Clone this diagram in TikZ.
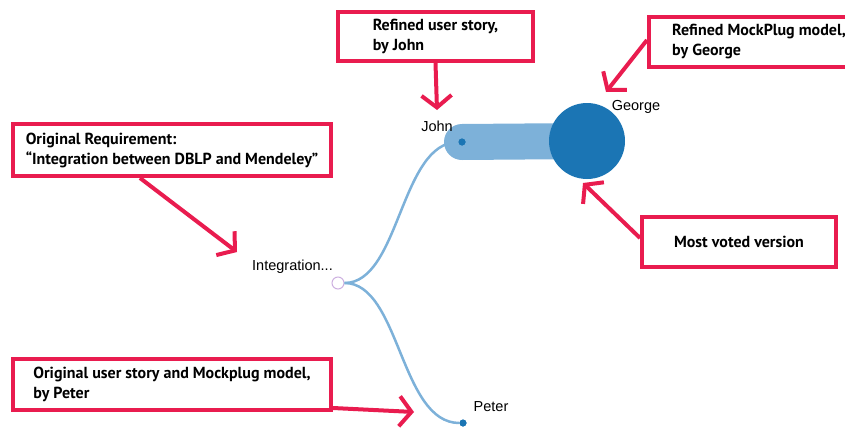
\documentclass[tikz,border=0pt]{standalone}
\usepackage{fontspec}
\setmainfont{Liberation Sans}
\newfontfamily\callfont[Ligatures=TeX]{PT Sans}
\usetikzlibrary{arrows.meta,positioning,backgrounds}
\definecolor{callRed}{HTML}{E91C4F}
\definecolor{treeLight}{HTML}{7DB1D9}
\definecolor{treeDark}{HTML}{1B75B4}
\definecolor{rootRing}{HTML}{CDB0E0}

\begin{document}
\begin{tikzpicture}[x=1pt,y=-1pt,
  call/.style={draw=callRed,line width=4pt,fill=white,align=left,inner sep=0pt,
    font=\callfont\bfseries\fontsize{16}{20}\selectfont},
  callarr/.style={-{Straight Barb[length=12pt,width=30pt]},line width=4pt,callRed},
  branch/.style={treeLight,line width=2.5pt},
  leaf/.style={circle,fill=treeDark,inner sep=0pt,minimum size=7pt},
  lbl/.style={font=\fontsize{14.5}{17}\selectfont,inner sep=0pt}
]
\useasboundingbox (0,0) rectangle (845,428);

% tree
\node[circle,draw=rootRing,fill=white,line width=1pt,minimum size=12pt,inner sep=0pt] (root) at (338,283) {};
\node[leaf] (john) at (462,142) {};
\node[leaf] (peter) at (463,423) {};
\node[circle,fill=treeDark,minimum size=76pt,inner sep=0pt] (george) at (587,141) {};
\begin{scope}[on background layer]
  \draw[treeLight,line width=36pt,line cap=round] (john.center) -- (george.center);
\end{scope}
\draw[branch] (root) .. controls (400,283) and (400,142) .. (john);
\draw[branch] (root) .. controls (400,283) and (400,423) .. (peter);
\node[leaf] at (john) {};
\node[leaf] at (peter) {};

\node[lbl,anchor=east] (rootlbl) at (333,267) {Integration...};
\node[lbl] (johnlbl) at (437,126) {John};
\node[lbl] (georgelbl) at (636,107) {George};
\node[lbl] (peterlbl) at (491,407) {Peter};

% callouts
\node[call,minimum width=318pt,minimum height=52pt] (req) at (172,150)
  {Original Requirement:\\“Integration between DBLP and Mendeley”};
\node[call,minimum width=195pt,minimum height=49pt] (story) at (435.5,36.5)
  {Refined user story,\\by John};
\node[call,minimum width=220pt,minimum height=50pt] (mock) at (759,42)
  {Refined MockPlug model,\\by George};
\node[call,align=center,minimum width=194pt,minimum height=50pt] (vote) at (739,242)
  {Most voted version};
\node[call,minimum width=318pt,minimum height=51pt] (orig) at (172,384.5)
  {Original user story and Mockplug model,\\by Peter};

\coordinate (reqtip) at (237,252);
\coordinate (storytip) at (437,110);
\coordinate (mocktip) at (606,92);
\coordinate (votetip) at (583,183);
\coordinate (origtip) at (414,412);

\draw[callarr] ([xshift=-32pt]req.south) -- (reqtip);
\draw[callarr] (story.south) -- (storytip);
\draw[callarr] ([yshift=2pt]mock.west) -- (mocktip);
\draw[callarr] ([yshift=4pt]vote.west) -- (votetip);
\draw[callarr] ([yshift=4pt]orig.south east) -- (origtip);
\end{tikzpicture}
\end{document}
